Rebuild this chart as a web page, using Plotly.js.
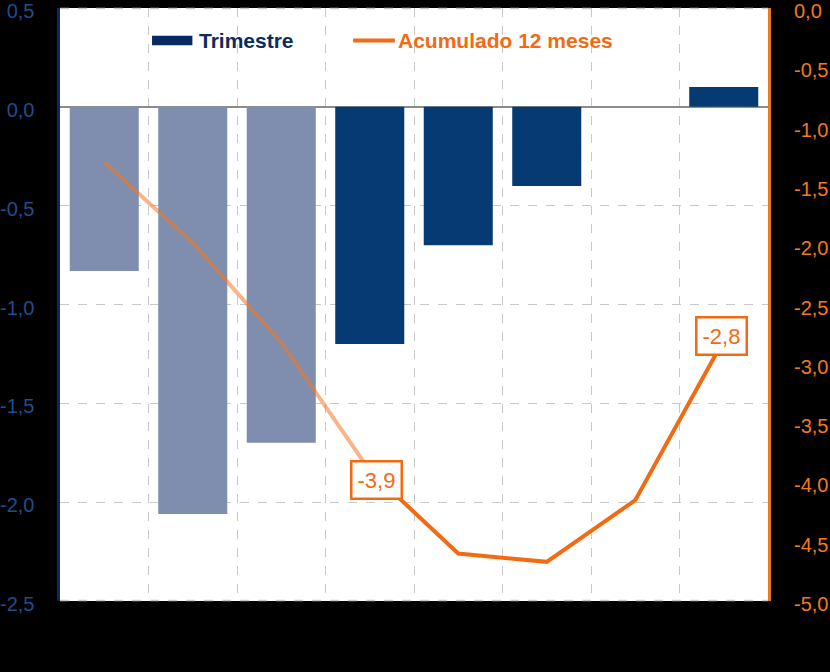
<!DOCTYPE html>
<html>
<head>
<meta charset="utf-8">
<script src="https://cdn.plot.ly/plotly-3.0.1.min.js"></script>
<style>
  html, body { margin: 0; padding: 0; background: #000; }
  #chart { width: 830px; height: 672px; }
</style>
</head>
<body>
<div id="chart"></div>
<script>
// ---- data ----
const categories = ["P1", "P2", "P3", "P4", "P5", "P6", "P7", "P8"];
const trimestre = [-0.83, -2.06, -1.70, -1.20, -0.70, -0.40, null, 0.10];
const acumulado12 = [-1.30, -1.98, -2.82, -3.90, -4.60, -4.67, -4.15, -2.80];
const leftTicks = [0.5, 0.0, -0.5, -1.0, -1.5, -2.0, -2.5];
const rightTicks = [0.0, -0.5, -1.0, -1.5, -2.0, -2.5, -3.0, -3.5, -4.0, -4.5, -5.0];
const labeledPoints = [3, 7];          // indices of points with a value label
const seriesNames = ["Trimestre", "Acumulado 12 meses"];

// ---- styles ----
const LIGHT_BAR = "#7F8EAE";
const DARK_BAR = "#053B72";
const ORANGE = "#F26B12";
const ORANGE_FADED = "rgba(240,120,40,0.55)";
const NAVY_TEXT = "#0B2C5E";
const FONT = "Liberation Sans, Arial, sans-serif";
const barColors = categories.map((c, i) => (i < 3 ? LIGHT_BAR : DARK_BAR));

const fmt = v => v.toFixed(1).replace(".", ",").replace("\u2212", "-");

const traces = [
  {
    type: "bar",
    name: seriesNames[0],
    x: categories,
    y: trimestre,
    marker: { color: barColors },
    yaxis: "y",
    hoverinfo: "skip"
  },
  {
    type: "scatter",
    mode: "lines",
    name: seriesNames[1],
    x: categories.slice(0, 4),
    y: acumulado12.slice(0, 4),
    yaxis: "y2",
    line: { color: ORANGE_FADED, width: 4 },
    hoverinfo: "skip"
  },
  {
    type: "scatter",
    mode: "lines",
    name: seriesNames[1],
    x: categories.slice(3),
    y: acumulado12.slice(3),
    yaxis: "y2",
    line: { color: ORANGE, width: 4 },
    hoverinfo: "skip"
  }
];

const shifts = { 3: [7, -9], 7: [-2, 4] };
const annotations = labeledPoints.map(i => ({
  x: categories[i],
  y: acumulado12[i],
  xref: "x",
  yref: "y2",
  text: fmt(acumulado12[i]),
  showarrow: false,
  xshift: shifts[i][0],
  yshift: shifts[i][1],
  bgcolor: "#FFFFFF",
  bordercolor: ORANGE,
  borderwidth: 2.5,
  borderpad: 5,
  font: { family: FONT, size: 22, color: ORANGE }
}));

// custom legend
annotations.push(
  {
    x: 0.1935, y: 0.945, xref: "paper", yref: "paper",
    xanchor: "left", yanchor: "middle", showarrow: false,
    text: "<b>" + seriesNames[0] + "</b>",
    font: { family: FONT, size: 21, color: NAVY_TEXT }
  },
  {
    x: 0.475, y: 0.945, xref: "paper", yref: "paper",
    xanchor: "left", yanchor: "middle", showarrow: false,
    text: "<b>" + seriesNames[1] + "</b>",
    font: { family: FONT, size: 21, color: ORANGE }
  }
);

const shapes = [
  {
    type: "rect", xref: "paper", yref: "paper",
    x0: 0.130, x1: 0.187, y0: 0.937, y1: 0.953,
    fillcolor: "#062A62", line: { width: 0 }
  },
  {
    type: "line", xref: "paper", yref: "paper",
    x0: 0.414, x1: 0.473, y0: 0.945, y1: 0.945,
    line: { color: ORANGE, width: 4 }
  },
  // dashed border lines at top and bottom of plot area
  {
    type: "line", xref: "paper", yref: "paper", layer: "below",
    x0: 0, x1: 1, y0: 0.999, y1: 0.999,
    line: { color: "#C8C8C8", width: 1.5, dash: "dash" }
  },
  {
    type: "line", xref: "paper", yref: "paper", layer: "below",
    x0: 0, x1: 1, y0: 0.001, y1: 0.001,
    line: { color: "#C8C8C8", width: 1.5, dash: "dash" }
  }
];

const layout = {
  width: 830,
  height: 672,
  paper_bgcolor: "#000000",
  plot_bgcolor: "#FFFFFF",
  margin: { l: 60, r: 62, t: 8, b: 71, pad: 0 },
  separators: ",.",
  showlegend: false,
  bargap: 0.22,
  font: { family: FONT },
  xaxis: {
    type: "category",
    range: [-0.5, 7.5],
    showticklabels: false,
    showgrid: true,
    gridcolor: "#C8C8C8",
    griddash: "dash",
    gridwidth: 1,
    tickson: "boundaries",
    ticks: "",
    showline: false,
    zeroline: false,
    fixedrange: true
  },
  yaxis: {
    range: [-2.5, 0.5],
    tickmode: "array",
    tickvals: leftTicks,
    ticktext: leftTicks.map(fmt),
    showgrid: true,
    gridcolor: "#C8C8C8",
    griddash: "dash",
    gridwidth: 1,
    zeroline: true,
    zerolinecolor: "#8C8C8C",
    zerolinewidth: 1.5,
    showline: true,
    linecolor: "#0B2A5B",
    linewidth: 3.5,
    ticks: "",
    ticklabelstandoff: 18,
    ticklabelshift: 3,
    ticklabeloverflow: "allow",
    tickfont: { family: FONT, size: 20, color: "#1F4E8C" },
    fixedrange: true
  },
  yaxis2: {
    overlaying: "y",
    side: "right",
    range: [-5, 0],
    tickmode: "array",
    tickvals: rightTicks,
    ticktext: rightTicks.map(fmt),
    showgrid: false,
    zeroline: false,
    showline: true,
    linecolor: "#E87A24",
    linewidth: 3,
    ticks: "",
    ticklabelstandoff: 19,
    ticklabelshift: 3,
    ticklabeloverflow: "allow",
    tickfont: { family: FONT, size: 20, color: "#F07A1E" },
    fixedrange: true
  },
  annotations: annotations,
  shapes: shapes
};

Plotly.newPlot("chart", traces, layout, { displayModeBar: false, staticPlot: true });
</script>
</body>
</html>
